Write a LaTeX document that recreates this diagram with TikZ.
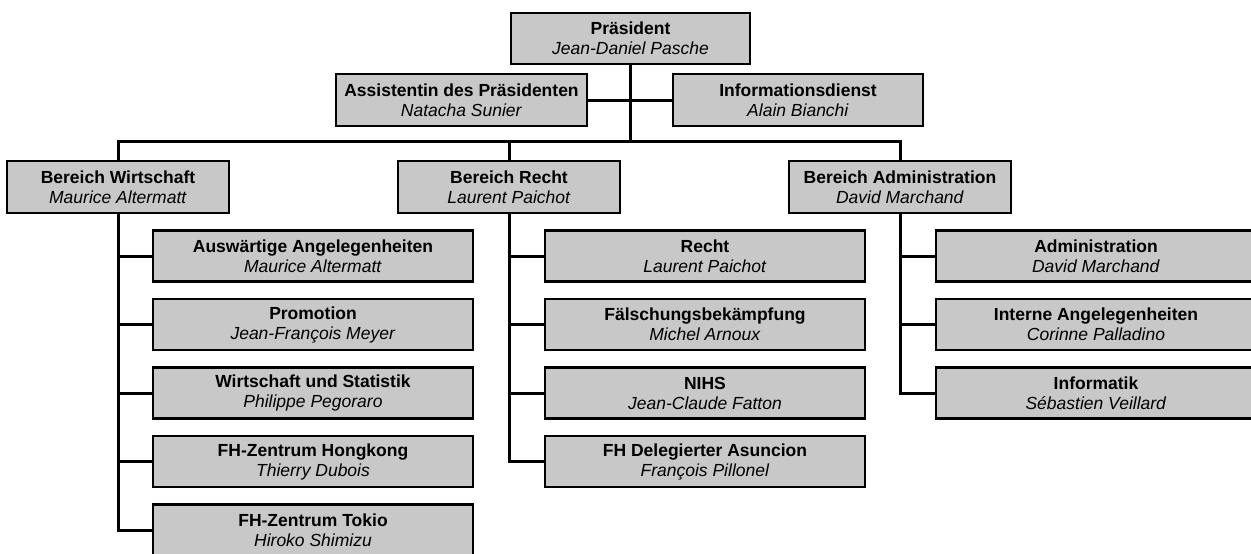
\documentclass[tikz,border=0pt]{standalone}
\usepackage{fontspec}
\setmainfont{Liberation Sans}
\definecolor{boxgray}{RGB}{200,200,200}
\tikzset{
  orgbox/.style={draw=black, fill=boxgray, line width=2.4pt, rectangle, inner sep=0pt,
    align=center, minimum height=51pt, font=\fontsize{17.5}{20}\selectfont},
  topbox/.style={orgbox, minimum width=#1},
  subbox/.style={orgbox, minimum width=320pt},
  link/.style={draw=black, line width=3pt}
}
\newcommand{\entry}[2]{\textbf{#1}\\\textit{#2}}
\begin{document}
\begin{tikzpicture}[x=1pt,y=-1pt]
\useasboundingbox (0,0) rectangle (1251,554);
% top
\node[topbox=239pt] (pres) at (630.5,38.5) {\entry{Präsident}{Jean-Daniel Pasche}};
\node[topbox=251pt, minimum height=52pt] (assist) at (461.5,100) {\entry{Assistentin des Präsidenten}{Natacha Sunier}};
\node[topbox=250pt, minimum height=52pt] (info) at (798,100) {\entry{Informationsdienst}{Alain Bianchi}};
% departments
\node[topbox=222pt, minimum height=52pt] (bw) at (118,187) {\entry{Bereich Wirtschaft}{Maurice Altermatt}};
\node[topbox=222pt, minimum height=52pt] (br) at (509,187) {\entry{Bereich Recht}{Laurent Paichot}};
\node[topbox=222pt, minimum height=52pt] (ba) at (900,187) {\entry{Bereich Administration}{David Marchand}};
% Wirtschaft children
\node[subbox] (w1) at (313,256) {\entry{Auswärtige Angelegenheiten}{Maurice Altermatt}};
\node[subbox] (w2) at (313,324.5) {\entry{Promotion}{Jean-François Meyer}};
\node[subbox] (w3) at (313,393) {\entry{Wirtschaft und Statistik}{Philippe Pegoraro}};
\node[subbox] (w4) at (313,461.5) {\entry{FH-Zentrum Hongkong}{Thierry Dubois}};
\node[subbox] (w5) at (313,530) {\entry{FH-Zentrum Tokio}{Hiroko Shimizu}};
% Recht children
\node[subbox] (r1) at (705,256) {\entry{Recht}{Laurent Paichot}};
\node[subbox] (r2) at (705,324.5) {\entry{Fälschungsbekämpfung}{Michel Arnoux}};
\node[subbox] (r3) at (705,393) {\entry{NIHS}{Jean-Claude Fatton}};
\node[subbox] (r4) at (705,461.5) {\entry{FH Delegierter Asuncion}{François Pillonel}};
% Administration children
\node[subbox] (a1) at (1096,256) {\entry{Administration}{David Marchand}};
\node[subbox] (a2) at (1096,324.5) {\entry{Interne Angelegenheiten}{Corinne Palladino}};
\node[subbox] (a3) at (1096,393) {\entry{Informatik}{Sébastien Veillard}};
% connectors
\coordinate (bus) at (0,141);
\draw[link] (pres.south) -- (pres.south |- bus);
\draw[link] (assist.east) -- (info.west);
\draw[link] (bw.north) -- (bw.north |- bus) -- (ba.north |- bus) -- (ba.north);
\draw[link] (br.north) -- (br.north |- bus);
\draw[link] (bw.south) -- (bw.south |- w5.west) -- (w5.west);
\foreach \k in {w1,w2,w3,w4} \draw[link] (bw.south |- \k.west) -- (\k.west);
\draw[link] (br.south) -- (br.south |- r4.west) -- (r4.west);
\foreach \k in {r1,r2,r3} \draw[link] (br.south |- \k.west) -- (\k.west);
\draw[link] (ba.south) -- (ba.south |- a3.west) -- (a3.west);
\foreach \k in {a1,a2} \draw[link] (ba.south |- \k.west) -- (\k.west);
\end{tikzpicture}
\end{document}
